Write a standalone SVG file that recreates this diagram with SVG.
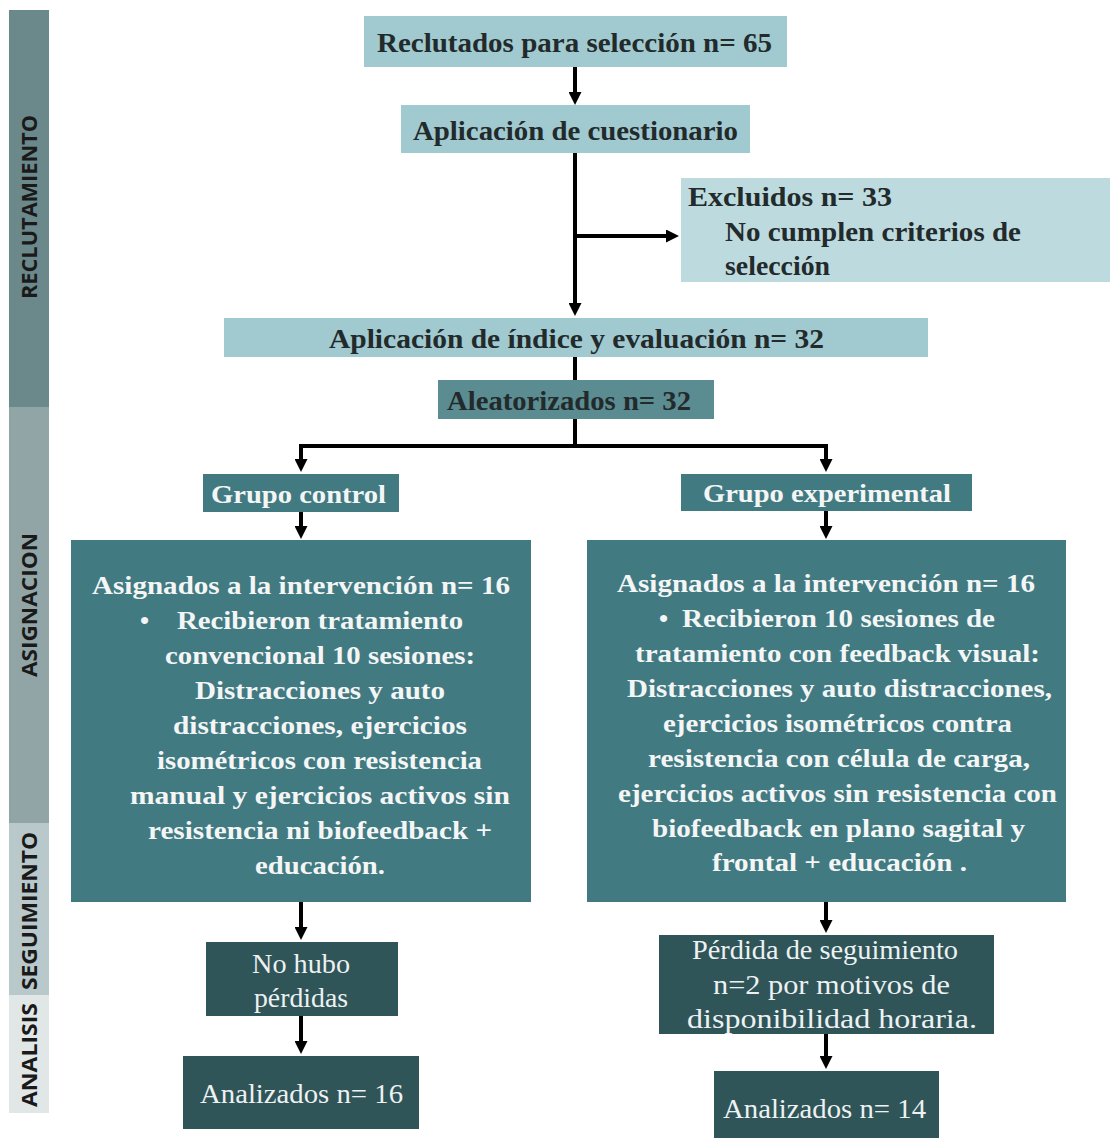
<svg xmlns="http://www.w3.org/2000/svg" width="1110" height="1138" viewBox="0 0 1110 1138">
<style>
.side{font-family:"Open Sans","Liberation Sans",sans-serif;font-weight:bold;font-size:21px;fill:#1a1a1a;text-anchor:middle}
.bd{font-family:"Liberation Serif","Times New Roman",serif;font-weight:bold;font-size:27px;fill:#232a2b}
.bw{font-family:"Liberation Serif","Times New Roman",serif;font-weight:bold;font-size:26px;fill:#f4f6f6}
.rw{font-family:"Liberation Serif","Times New Roman",serif;font-size:27px;fill:#eef1f1}
.conn{stroke:#000;stroke-width:4;fill:none}
</style>
<defs>
<marker id="ah" markerUnits="userSpaceOnUse" markerWidth="13" markerHeight="13" refX="3" refY="6.5" orient="auto">
<path d="M0,0 L13,6.5 L0,13 z" fill="#000"/>
</marker>
</defs>
<rect width="1110" height="1138" fill="#ffffff"/>

<g id="sidebar">
<rect x="9" y="10" width="40" height="397" fill="#6b888b"/>
<rect x="9" y="407" width="40" height="416" fill="#91a5a7"/>
<rect x="9" y="823" width="40" height="172" fill="#b9c8ca"/>
<rect x="9" y="995" width="40" height="118" fill="#e1e6e7"/>
<text class="side" transform="translate(37,207) rotate(-90)" textLength="184" lengthAdjust="spacingAndGlyphs">RECLUTAMIENTO</text>
<text class="side" transform="translate(37,605) rotate(-90)" textLength="144" lengthAdjust="spacingAndGlyphs">ASIGNACION</text>
<text class="side" transform="translate(37,911) rotate(-90)" textLength="158" lengthAdjust="spacingAndGlyphs">SEGUIMIENTO</text>
<text class="side" transform="translate(37,1055) rotate(-90)" textLength="104" lengthAdjust="spacingAndGlyphs">ANALISIS</text>
</g>

<g id="connectors">
<path class="conn" d="M575,67 V95" marker-end="url(#ah)"/>
<path class="conn" d="M575,153 V306" marker-end="url(#ah)"/>
<path class="conn" d="M575,236 H669" marker-end="url(#ah)"/>
<path class="conn" d="M575,357 V380"/>
<path class="conn" d="M575,419 V446"/>
<path class="conn" d="M299,446 H828"/>
<path class="conn" d="M301,446 V462" marker-end="url(#ah)"/>
<path class="conn" d="M826,446 V462" marker-end="url(#ah)"/>
<path class="conn" d="M301,512 V529" marker-end="url(#ah)"/>
<path class="conn" d="M826,511 V529" marker-end="url(#ah)"/>
<path class="conn" d="M301,902 V930" marker-end="url(#ah)"/>
<path class="conn" d="M826,902 V923" marker-end="url(#ah)"/>
<path class="conn" d="M301,1015 V1044" marker-end="url(#ah)"/>
<path class="conn" d="M826,1033 V1059" marker-end="url(#ah)"/>
</g>

<g id="reclutados">
<rect x="364" y="16" width="423" height="51" fill="#a0c9d0"/>
<text class="bd" x="377" y="52" textLength="395" lengthAdjust="spacingAndGlyphs">Reclutados para selección n= 65</text>
</g>

<g id="cuestionario">
<rect x="401" y="105" width="349" height="48" fill="#a0c9d0"/>
<text class="bd" x="413" y="140" textLength="325" lengthAdjust="spacingAndGlyphs">Aplicación de cuestionario</text>
</g>

<g id="excluidos">
<rect x="681" y="178" width="429" height="104" fill="#bddbdf"/>
<text class="bd" x="688" y="206" textLength="204" lengthAdjust="spacingAndGlyphs">Excluidos  n= 33</text>
<text class="bd" x="725" y="241" textLength="296" lengthAdjust="spacingAndGlyphs">No cumplen criterios de</text>
<text class="bd" x="725" y="275" textLength="105" lengthAdjust="spacingAndGlyphs">selección</text>
</g>

<g id="indice">
<rect x="224" y="318" width="704" height="39" fill="#a0c9d0"/>
<text class="bd" x="329" y="348" textLength="495" lengthAdjust="spacingAndGlyphs">Aplicación de  índice y evaluación n= 32</text>
</g>

<g id="aleatorizados">
<rect x="438" y="380" width="276" height="39" fill="#5b8c92"/>
<text class="bd" x="447" y="410" textLength="244" lengthAdjust="spacingAndGlyphs">Aleatorizados  n= 32</text>
</g>

<g id="grupo-control">
<rect x="203" y="474" width="196" height="38" fill="#427a82"/>
<text class="bw" x="211" y="503" textLength="175" lengthAdjust="spacingAndGlyphs">Grupo control</text>
</g>

<g id="grupo-experimental">
<rect x="681" y="474" width="291" height="37" fill="#427a82"/>
<text class="bw" x="703" y="502" textLength="248" lengthAdjust="spacingAndGlyphs">Grupo experimental</text>
</g>

<g id="intervencion-control">
<rect x="71" y="540" width="460" height="362" fill="#427a82"/>
<text class="bw" x="92" y="594" textLength="418" lengthAdjust="spacingAndGlyphs">Asignados a la intervención  n= 16</text>
<text class="bw" x="140" y="629">•</text>
<text class="bw" x="177" y="629" textLength="286" lengthAdjust="spacingAndGlyphs">Recibieron  tratamiento</text>
<text class="bw" x="165" y="664" textLength="310" lengthAdjust="spacingAndGlyphs">convencional  10 sesiones:</text>
<text class="bw" x="195" y="699" textLength="250" lengthAdjust="spacingAndGlyphs">Distracciones  y auto</text>
<text class="bw" x="173" y="734" textLength="294" lengthAdjust="spacingAndGlyphs">distracciones,  ejercicios</text>
<text class="bw" x="157" y="769" textLength="325" lengthAdjust="spacingAndGlyphs">isométricos  con  resistencia</text>
<text class="bw" x="130" y="804" textLength="380" lengthAdjust="spacingAndGlyphs">manual  y ejercicios  activos sin</text>
<text class="bw" x="148" y="839" textLength="344" lengthAdjust="spacingAndGlyphs">resistencia  ni biofeedback +</text>
<text class="bw" x="255" y="874" textLength="130" lengthAdjust="spacingAndGlyphs">educación.</text>
</g>

<g id="intervencion-experimental">
<rect x="587" y="540" width="479" height="362" fill="#427a82"/>
<text class="bw" x="617" y="592" textLength="418" lengthAdjust="spacingAndGlyphs">Asignados a la intervención  n= 16</text>
<text class="bw" x="659" y="627">•</text>
<text class="bw" x="682" y="627" textLength="313" lengthAdjust="spacingAndGlyphs">Recibieron  10 sesiones  de</text>
<text class="bw" x="635" y="662" textLength="405" lengthAdjust="spacingAndGlyphs">tratamiento  con  feedback visual:</text>
<text class="bw" x="627" y="697" textLength="425" lengthAdjust="spacingAndGlyphs">Distracciones  y auto distracciones,</text>
<text class="bw" x="663" y="732" textLength="349" lengthAdjust="spacingAndGlyphs">ejercicios  isométricos  contra</text>
<text class="bw" x="648" y="767" textLength="382" lengthAdjust="spacingAndGlyphs">resistencia  con  célula de carga,</text>
<text class="bw" x="618" y="802" textLength="439" lengthAdjust="spacingAndGlyphs">ejercicios  activos  sin  resistencia  con</text>
<text class="bw" x="652" y="837" textLength="373" lengthAdjust="spacingAndGlyphs">biofeedback en plano sagital y</text>
<text class="bw" x="712" y="871" textLength="255" lengthAdjust="spacingAndGlyphs">frontal + educación .</text>
</g>

<g id="sin-perdidas">
<rect x="206" y="942" width="192" height="74" fill="#2f5559"/>
<text class="rw" x="252" y="973" textLength="98" lengthAdjust="spacingAndGlyphs">No hubo</text>
<text class="rw" x="254" y="1007" textLength="94" lengthAdjust="spacingAndGlyphs">pérdidas</text>
</g>

<g id="perdida-seguimiento">
<rect x="659" y="935" width="335" height="99" fill="#2f5559"/>
<text class="rw" x="692" y="959" textLength="266" lengthAdjust="spacingAndGlyphs">Pérdida de seguimiento</text>
<text class="rw" x="713" y="994" textLength="237" lengthAdjust="spacingAndGlyphs">n=2 por motivos de</text>
<text class="rw" x="687" y="1028" textLength="290" lengthAdjust="spacingAndGlyphs">disponibilidad horaria.</text>
</g>

<g id="analizados-control">
<rect x="183" y="1056" width="236" height="73" fill="#2f5559"/>
<text class="rw" x="200" y="1103" textLength="203" lengthAdjust="spacingAndGlyphs">Analizados  n= 16</text>
</g>

<g id="analizados-experimental">
<rect x="714" y="1071" width="225" height="67" fill="#2f5559"/>
<text class="rw" x="723" y="1118" textLength="203" lengthAdjust="spacingAndGlyphs">Analizados  n= 14</text>
</g>
</svg>
